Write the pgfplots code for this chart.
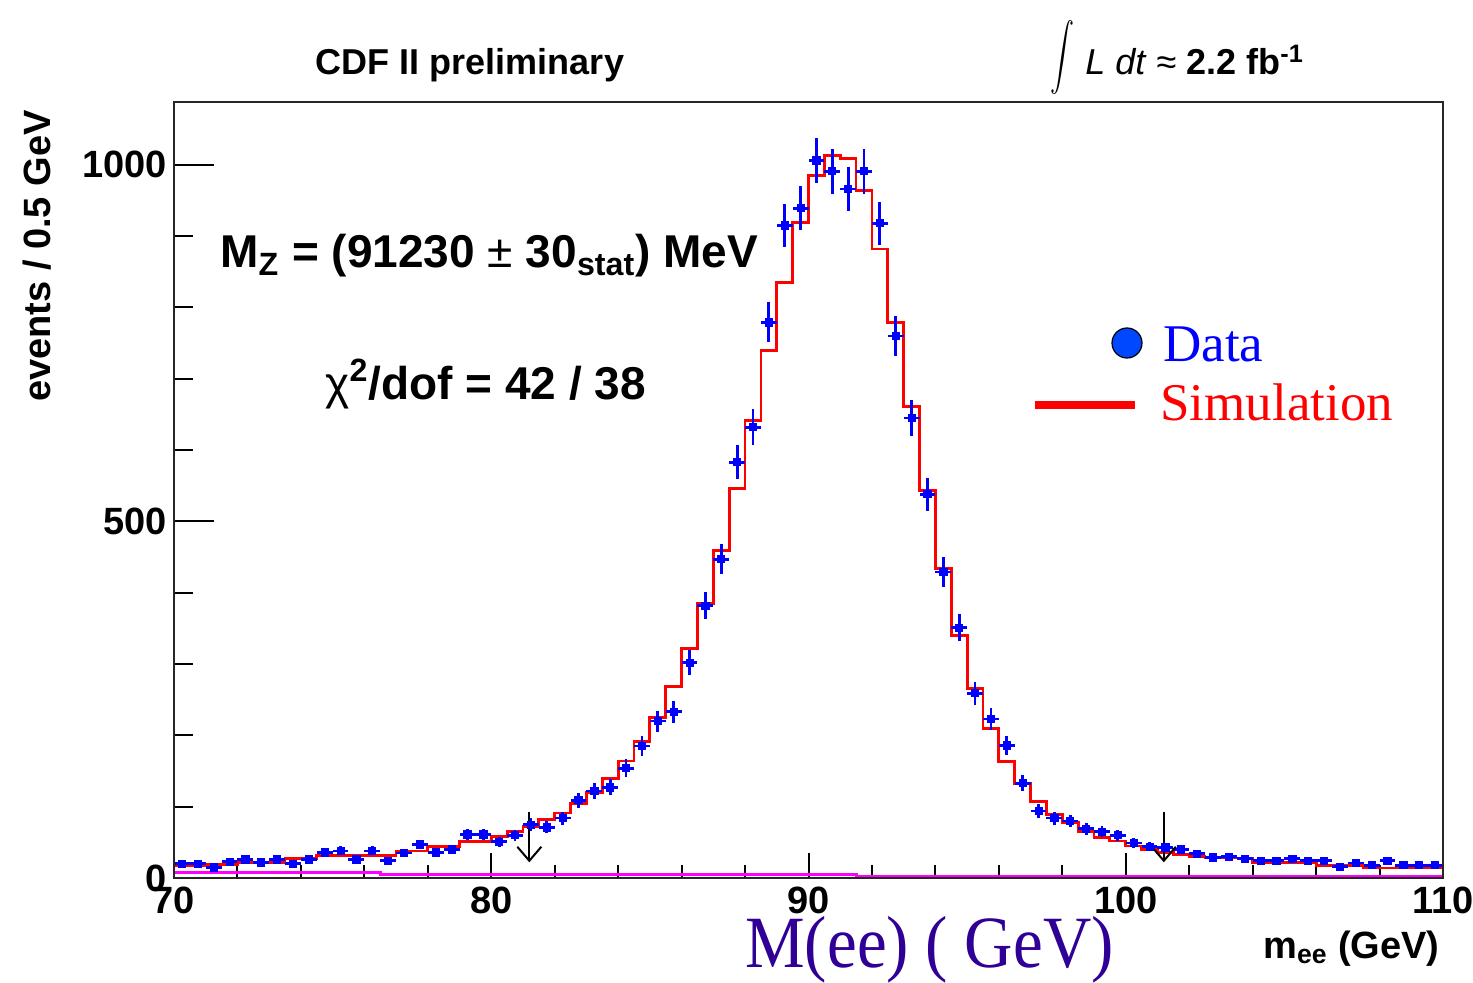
\documentclass[border=0pt]{standalone}
\usepackage{pgfplots}
\pgfplotsset{compat=1.18}
\usepackage{graphicx}
\usepackage{fontspec}
\setmainfont{Liberation Sans}
\newfontfamily\seriffont{Liberation Serif}
\usetikzlibrary{arrows.meta}
\definecolor{datablue}{RGB}{0,0,255}
\definecolor{legblue}{RGB}{0,72,255}
\definecolor{simred}{RGB}{255,0,0}
\definecolor{bgmag}{RGB}{255,0,255}
\definecolor{indigo}{RGB}{48,0,150}
\begin{document}
\begin{tikzpicture}
\useasboundingbox (0,0) rectangle (736.5pt,491pt);
\begin{axis}[
  at={(87pt,52pt)}, anchor=south west,
  scale only axis, width=634.5pt, height=388pt,
  xmin=70, xmax=110, ymin=0, ymax=1088,
  xtick={70,80,...,110}, minor xtick={72,74,...,108},
  ytick=\empty,
  tick pos=left, tick align=inside,
  major tick length=12.5pt, minor tick length=6.5pt,
  axis line style={line width=1pt, black!85},
  every tick/.style={black, line width=1pt},
  ticklabel style={font=\fontsize{19}{19}\selectfont\bfseries},
  /pgf/number format/assume math mode=true,
  /pgf/number format/1000 sep={},
  xticklabel style={yshift=-1pt},
]
% background (magenta)
\addplot[bgmag, line width=1.5pt, const plot] coordinates {
(70,8) (76.5,5) (91.5,2) (110,2)};
% simulation histogram
\addplot[simred, line width=1.4pt, const plot] table[x=x,y=y] {
x y
70.0 18
70.5 18
71.0 19
71.5 19
72.0 22
72.5 22
73.0 22
73.5 27
74.0 27
74.5 31
75.0 31
75.5 31
76.0 31
76.5 31
77.0 38
77.5 38
78.0 44
78.5 44
79.0 51
79.5 51
80.0 58
80.5 65
81.0 72
81.5 82
82.0 91
82.5 105
83.0 120
83.5 139
84.0 164
84.5 191
85.0 225
85.5 269
86.0 322
86.5 385
87.0 459
87.5 546
88.0 642
88.5 740
89.0 835
89.5 919
90.0 985
90.5 1013
91.0 1009
91.5 964
92.0 882
92.5 779
93.0 661
93.5 543
94.0 434
94.5 340
95.0 266
95.5 210
96.0 163
96.5 132
97.0 107
97.5 89
98.0 78
98.5 65
99.0 57
99.5 52
100.0 45
100.5 40
101.0 36
101.5 33
102.0 30
102.5 28
103.0 28
103.5 28
104.0 22
104.5 22
105.0 22
105.5 22
106.0 18
106.5 18
107.0 18
107.5 14
108.0 14
108.5 14
109.0 14
109.5 14
110.0 14
};
% data
\addplot[datablue, only marks, mark=square*, mark size=1.8pt,
  error bars/.cd, x dir=both, x explicit, y dir=both, y explicit,
  error mark=none, error bar style={line width=1.4pt, datablue}]
  table[x=x, y=y, x error=ex, y error=ey] {
x y ex ey
70.25 20 0.25 4.5
70.75 20 0.25 4.5
71.25 15 0.25 3.9
71.75 23 0.25 4.8
72.25 26 0.25 5.1
72.75 22 0.25 4.7
73.25 26 0.25 5.1
73.75 20 0.25 4.5
74.25 26 0.25 5.1
74.75 36 0.25 6.0
75.25 38 0.25 6.2
75.75 26 0.25 5.1
76.25 38 0.25 6.2
76.75 24 0.25 4.9
77.25 35 0.25 5.9
77.75 47 0.25 6.9
78.25 36 0.25 6.0
78.75 40 0.25 6.3
79.25 61 0.25 7.8
79.75 61 0.25 7.8
80.25 51 0.25 7.1
80.75 60 0.25 7.7
81.25 75 0.25 8.7
81.75 71 0.25 8.4
82.25 84 0.25 9.2
82.75 109 0.25 10.4
83.25 122 0.25 11.0
83.75 127 0.25 11.3
84.25 154 0.25 12.4
84.75 185 0.25 13.6
85.25 220 0.25 14.8
85.75 233 0.25 15.3
86.25 302 0.25 17.4
86.75 382 0.25 19.5
87.25 447 0.25 21.1
87.75 583 0.25 24.1
88.25 632 0.25 25.1
88.75 779 0.25 27.9
89.25 915 0.25 30.2
89.75 939 0.25 30.6
90.25 1006 0.25 31.7
90.75 991 0.25 31.5
91.25 966 0.25 31.1
91.75 991 0.25 31.5
92.25 918 0.25 30.3
92.75 760 0.25 27.6
93.25 645 0.25 25.4
93.75 538 0.25 23.2
94.25 429 0.25 20.7
94.75 351 0.25 18.7
95.25 259 0.25 16.1
95.75 223 0.25 14.9
96.25 186 0.25 13.6
96.75 133 0.25 11.5
97.25 94 0.25 9.7
97.75 84 0.25 9.2
98.25 80 0.25 8.9
98.75 69 0.25 8.3
99.25 65 0.25 8.1
99.75 60 0.25 7.7
100.25 49 0.25 7.0
100.75 44 0.25 6.6
101.25 43 0.25 6.6
101.75 40 0.25 6.3
102.25 34 0.25 5.8
102.75 29 0.25 5.4
103.25 30 0.25 5.5
103.75 27 0.25 5.2
104.25 24 0.25 4.9
104.75 24 0.25 4.9
105.25 27 0.25 5.2
105.75 24 0.25 4.9
106.25 24 0.25 4.9
106.75 16 0.25 4.0
107.25 21 0.25 4.6
107.75 18 0.25 4.2
108.25 24 0.25 4.9
108.75 18 0.25 4.2
109.25 18 0.25 4.2
109.75 18 0.25 4.2
};
% fit-range arrows
\addplot[black, line width=1pt, -{Straight Barb[length=7pt,width=12pt]}] coordinates {(81.2,93) (81.2,22)};
\addplot[black, line width=1pt, -{Straight Barb[length=7pt,width=12pt]}] coordinates {(101.2,93) (101.2,22)};
\end{axis}
% second axis: y ticks only
\begin{axis}[
  at={(87pt,52pt)}, anchor=south west,
  scale only axis, width=634.5pt, height=388pt,
  xmin=70, xmax=110, ymin=0, ymax=1088,
  xtick=\empty,
  ytick={0,500,1000}, minor ytick={100,200,...,900},
  tick pos=left, tick align=inside,
  major tick length=20pt, minor tick length=9.5pt,
  axis line style={line width=1pt, black!85},
  every tick/.style={black, line width=1pt},
  ticklabel style={font=\fontsize{19}{19}\selectfont\bfseries},
  /pgf/number format/assume math mode=true,
  /pgf/number format/1000 sep={},
]
\end{axis}
% texts
\node[anchor=base] at (235pt,453.5pt) {\fontsize{18}{18}\selectfont\bfseries CDF II preliminary};
\node[inner sep=0pt] at (531pt,462pt) {\resizebox*{12pt}{37pt}{$\displaystyle\int$}};
\node[anchor=base west, inner sep=0pt] at (542.5pt,453.5pt) {\fontsize{18}{18}\selectfont\textit{L dt} ≈ \textbf{2.2 fb\textsuperscript{-1}}};
\node[anchor=base west, inner sep=0pt] at (110pt,357pt) {\fontsize{23}{23}\selectfont\bfseries M\textsubscript{Z} = (91230 {\mdseries±} 30\textsubscript{stat}) MeV};
\node[anchor=base west, inner sep=0pt] at (162.5pt,291pt) {\fontsize{23}{23}\selectfont\bfseries {\mdseries χ}\textsuperscript{2}/dof = 42 / 38};
\node[anchor=base east, rotate=90, inner sep=0pt] at (25pt,436pt) {\fontsize{19}{19}\selectfont\bfseries events / 0.5 GeV};
\node[anchor=base east, inner sep=0pt] at (720pt,12pt) {\fontsize{19}{19}\selectfont\bfseries m\textsubscript{ee} (GeV)};
% legend
\draw[black, fill=legblue, line width=0.6pt] (563.5pt,319.5pt) circle (7.5pt);
\node[anchor=base west, inner sep=0pt, text=datablue] at (581.5pt,310pt) {\seriffont\fontsize{26.5}{26.5}\selectfont Data};
\draw[simred, line width=4pt] (517.5pt,288.5pt) -- (567.5pt,288.5pt);
\node[anchor=base west, inner sep=0pt, text=simred] at (580pt,281pt) {\seriffont\fontsize{26.5}{26.5}\selectfont Simulation};
\node[anchor=base west, inner sep=0pt, text=indigo] at (372.5pt,7.5pt) {\scalebox{1}[1.1]{\seriffont\fontsize{33.5}{33.5}\selectfont M(ee) ( GeV)}};
\end{tikzpicture}
\end{document}
